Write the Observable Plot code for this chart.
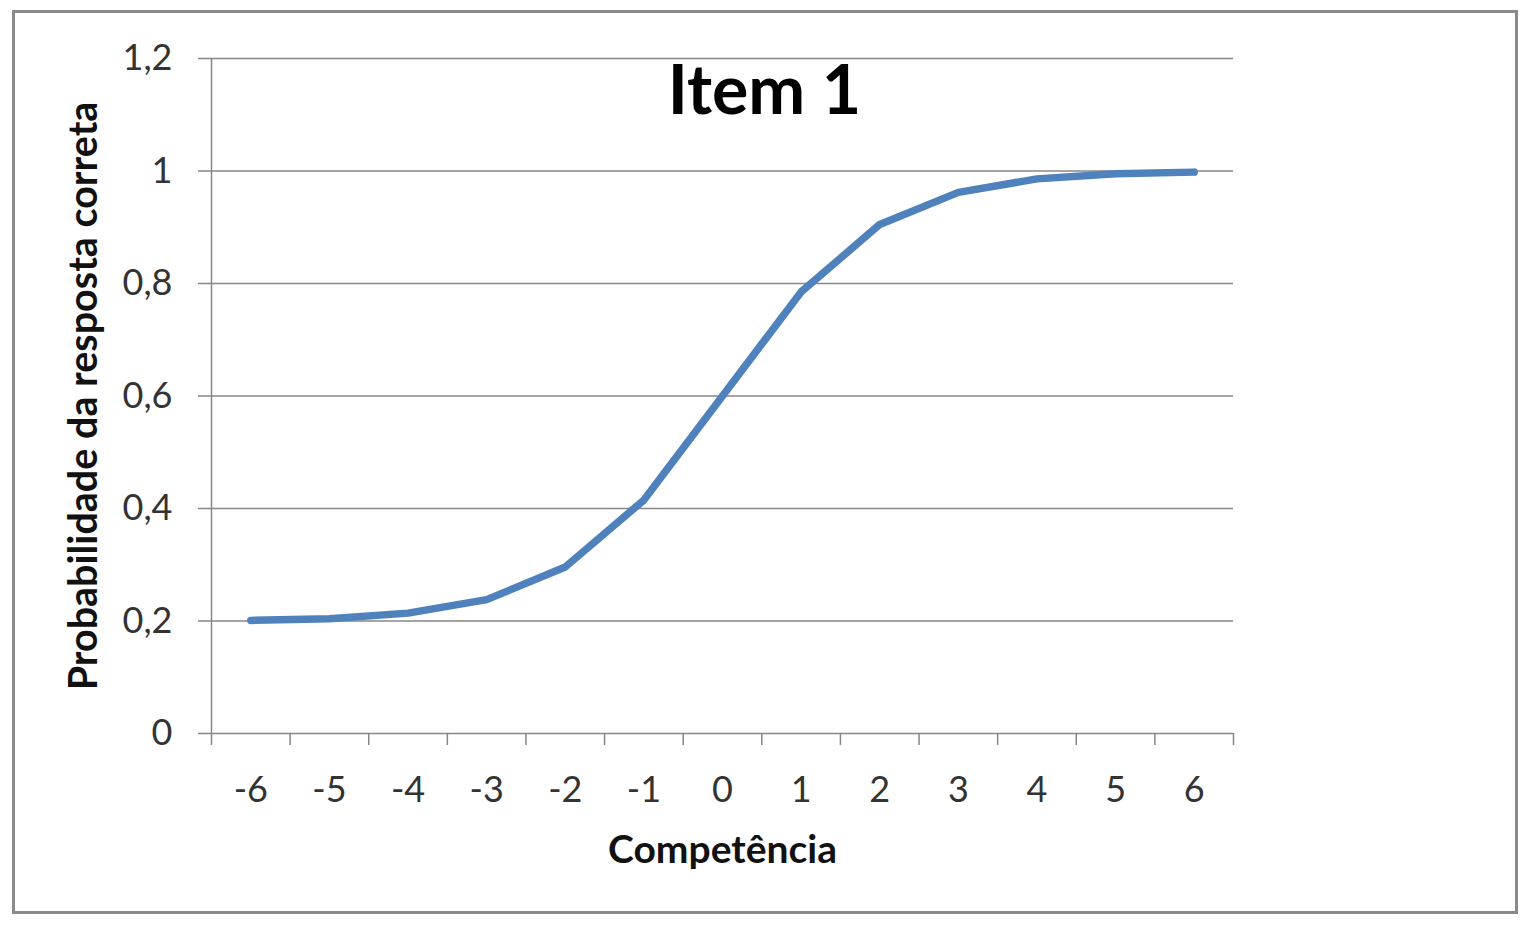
<!DOCTYPE html>
<html>
<head>
<meta charset="utf-8">
<script src="https://cdn.jsdelivr.net/npm/d3@7"></script>
<script src="https://cdn.jsdelivr.net/npm/@observablehq/plot@0.6"></script>
<style>
  html, body { margin: 0; padding: 0; background: #fff; }
  #wrap { position: relative; width: 1534px; height: 930px; }
  #frame { position: absolute; left: 12px; top: 10px; width: 1506px; height: 904px; box-sizing: border-box; border: 3px solid #8a8a8a; pointer-events: none; }
  #chart { position: absolute; left: 0; top: 0; }
</style>
</head>
<body>
<div id="wrap"><div id="chart"></div><div id="frame"></div></div>
<script>
const competencia = [-6, -5, -4, -3, -2, -1, 0, 1, 2, 3, 4, 5, 6];
const probabilidade = [0.201, 0.204, 0.214, 0.238, 0.296, 0.415, 0.600, 0.785, 0.905, 0.962, 0.986, 0.995, 0.998];
const yTicks = [0, 0.2, 0.4, 0.6, 0.8, 1, 1.2];
const title = "Item 1";
const xLabel = "Competência";
const yLabel = "Probabilidade da resposta correta";

const data = competencia.map((c, i) => ({c, p: probabilidade[i]}));
const boundaries = [...competencia.map(c => c - 0.5), competencia[competencia.length - 1] + 0.5];
const fmt = d => String(d).replace(".", ",");
const grey = "#878787";
const font = "Lato, 'Open Sans', sans-serif";

const chart = Plot.plot({
  width: 1534,
  height: 930,
  marginLeft: 211,
  marginRight: 301,
  marginTop: 58,
  marginBottom: 197,
  style: {fontFamily: font, background: "transparent"},
  x: {type: "linear", domain: [boundaries[0], boundaries[boundaries.length - 1]]},
  y: {domain: [0, 1.2]},
  marks: [
    Plot.gridY(yTicks, {stroke: grey, strokeOpacity: 1, strokeWidth: 1.5}),
    Plot.ruleX([boundaries[0]], {stroke: grey, strokeWidth: 1.5}),
    Plot.axisY({ticks: yTicks, tickSize: 13, tickPadding: 26, tickFormat: fmt, fontSize: 36, fill: "#333", stroke: grey, strokeWidth: 1.5, label: null}),
    Plot.axisX({ticks: boundaries, tickSize: 12, tickFormat: () => "", stroke: grey, strokeWidth: 1.5, label: null}),
    Plot.axisX({ticks: competencia, tickSize: 0, tickPadding: 43, tickFormat: d => String(d), fontSize: 36, fill: "#333", label: null}),
    Plot.line(data, {x: "c", y: "p", stroke: "#4F81BD", strokeWidth: 7.5, strokeLinecap: "round", strokeLinejoin: "round"}),
    Plot.text([title], {frameAnchor: "top", dx: 42, dy: 34, fontSize: 68, fontWeight: "bold", fill: "#000", lineAnchor: "middle", text: d => d}),
    Plot.text([xLabel], {frameAnchor: "bottom", dy: 117, fontSize: 39, fontWeight: "bold", fill: "#111", lineAnchor: "middle", text: d => d}),
    Plot.text([yLabel], {frameAnchor: "left", dx: -127, rotate: -90, textAnchor: "middle", fontSize: 39.5, fontWeight: "bold", fill: "#111", lineAnchor: "middle", text: d => d})
  ]
});
document.getElementById("chart").appendChild(chart);
</script>
</body>
</html>
